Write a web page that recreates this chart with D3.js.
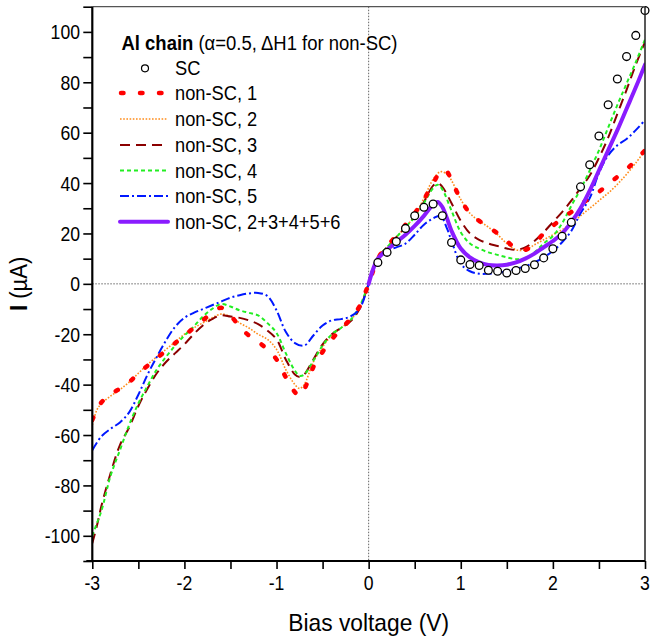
<!DOCTYPE html>
<html><head><meta charset="utf-8">
<script src="https://cdn.jsdelivr.net/npm/d3@7"></script>
<style>body{margin:0;background:#fff}svg{display:block}text{font-family:"Liberation Sans",Arial,Helvetica,sans-serif;fill:#000}</style>
</head><body>
<script>
// ---- data (bias voltage V, current µA) ----
const scV = [0.1,0.2,0.3,0.4,0.5,0.6,0.7,0.8,0.9,1.0,1.1,1.2,1.3,1.4,1.5,1.6,1.7,1.8,1.9,2.0,2.1,2.2,2.3,2.4,2.5,2.6,2.7,2.8,2.9,3.0];
const scI = [8.5,12.5,16.8,22.0,27.0,30.4,31.7,27.0,16.4,9.5,7.7,7.3,5.4,5.0,4.3,5.3,6.1,7.6,10.3,13.9,18.9,24.4,38.5,47.3,58.7,71.1,81.3,90.2,98.6,108.5];

const v1 = [-3,-2.9,-2.8,-2.7,-2.6,-2.5,-2.4,-2.3,-2.2,-2.1,-2.0,-1.9,-1.8,-1.7,-1.6,-1.5,-1.4,-1.3,-1.2,-1.1,-1.0,-0.9,-0.8,-0.75,-0.7,-0.6,-0.5,-0.4,-0.3,-0.2,-0.1,0,0.1,0.2,0.3,0.4,0.5,0.6,0.7,0.8,0.85,0.9,1.0,1.1,1.2,1.3,1.4,1.5,1.6,1.7,1.8,1.9,2.0,2.1,2.2,2.3,2.4,2.5,2.6,2.7,2.8,2.9,3.0];
const i1 = [-54,-47,-44,-41.5,-39,-35.5,-32.5,-29.5,-26.5,-23.5,-20.5,-17.5,-14.5,-11.5,-9.5,-12.5,-17,-20.5,-23,-26,-30,-37,-43,-44.5,-42,-33,-27,-22,-18,-14,-9,0,10,15,19,23.5,28,33.5,40,45.3,44.5,41,33.5,28,25,22.5,20,17,14,13.5,16,20,23,26,28.5,31.5,34,36.5,39.5,42.5,45.5,49,53];

const v2 = [-3,-2.95,-2.9,-2.8,-2.7,-2.6,-2.5,-2.4,-2.3,-2.2,-2.1,-2.0,-1.9,-1.8,-1.7,-1.6,-1.5,-1.4,-1.3,-1.2,-1.1,-1.0,-0.9,-0.8,-0.75,-0.7,-0.6,-0.5,-0.4,-0.3,-0.2,-0.1,0,0.1,0.2,0.3,0.4,0.5,0.6,0.7,0.78,0.85,0.9,1.0,1.1,1.2,1.3,1.4,1.5,1.6,1.7,1.8,1.9,2.0,2.1,2.2,2.3,2.4,2.5,2.6,2.7,2.8,2.9,3.0];
const i2 = [-56,-50,-47.5,-44.5,-42,-39,-35.5,-32,-29,-26,-23,-20,-17.5,-15.5,-13.5,-12,-13,-15.5,-17.5,-20,-22,-26,-34,-40,-41.5,-40,-31,-25,-20.5,-17.5,-14.5,-9.5,0,11,14.5,18.5,22.5,27,34,41.5,44.5,43.5,41,33.5,28,25,22.5,19.5,16,13.5,13.5,15.5,17.5,19.5,21.5,24,27,30,33,36,39.5,43.5,48,53];

const v3 = [-3,-2.95,-2.9,-2.8,-2.7,-2.6,-2.5,-2.4,-2.3,-2.2,-2.1,-2.0,-1.9,-1.8,-1.7,-1.6,-1.5,-1.4,-1.3,-1.2,-1.1,-1.0,-0.9,-0.8,-0.75,-0.7,-0.6,-0.5,-0.4,-0.3,-0.2,-0.1,0,0.1,0.2,0.3,0.4,0.5,0.6,0.7,0.75,0.8,0.9,1.0,1.1,1.2,1.3,1.4,1.5,1.6,1.7,1.8,1.9,2.0,2.1,2.2,2.3,2.4,2.5,2.6,2.7,2.8,2.9,3.0];
const i3 = [-103,-96,-88,-75,-64,-57,-48.5,-41.5,-35.5,-31,-27.5,-24,-20,-16.5,-14,-12.5,-13,-13.5,-14.5,-16,-18.5,-22,-30,-36,-37,-36,-30,-24,-20,-17.5,-15,-10,0,10.5,14.5,18.5,22.5,27,32.5,39,40,38.5,32,25,20,17.5,16,15,14,13.5,14.5,17,20.5,24.5,28.5,33,38,43,50,58,67.5,77,87,96];

const v4 = [-3,-2.95,-2.9,-2.8,-2.7,-2.6,-2.5,-2.4,-2.3,-2.2,-2.1,-2.0,-1.9,-1.8,-1.7,-1.6,-1.5,-1.4,-1.3,-1.2,-1.1,-1.0,-0.9,-0.8,-0.75,-0.7,-0.6,-0.5,-0.4,-0.3,-0.2,-0.1,0,0.1,0.2,0.3,0.4,0.5,0.6,0.7,0.75,0.8,0.9,1.0,1.1,1.2,1.3,1.4,1.5,1.6,1.7,1.8,1.9,2.0,2.1,2.2,2.3,2.4,2.5,2.6,2.7,2.8,2.9,3.0];
const i4 = [-100,-95,-90,-76,-66,-56,-47.5,-40.5,-34,-29,-24.5,-20.5,-17,-13,-10,-8,-9,-10.5,-11.5,-12.5,-15.5,-19.5,-27.5,-34.5,-36.5,-36,-30.5,-24.5,-20,-17.5,-14.5,-9,0,10.5,14.5,18.5,22.5,26.5,32,38,39.3,37.5,29,20.5,16,14,12.5,11.5,10.5,9.8,10,12.5,16,19,24,31,37.5,45,53,62,71,79.5,88,97];

const v5 = [-3,-2.9,-2.8,-2.7,-2.6,-2.5,-2.4,-2.3,-2.2,-2.1,-2.0,-1.9,-1.8,-1.7,-1.6,-1.5,-1.4,-1.3,-1.2,-1.1,-1.0,-0.9,-0.8,-0.7,-0.6,-0.5,-0.4,-0.3,-0.2,-0.1,0,0.1,0.2,0.3,0.4,0.5,0.6,0.7,0.78,0.85,0.9,1.0,1.1,1.2,1.3,1.4,1.5,1.6,1.7,1.8,1.9,2.0,2.1,2.2,2.3,2.4,2.5,2.6,2.7,2.8,2.9,3.0];
const i5 = [-66,-60.5,-57.5,-55,-51,-44,-36,-29,-22.5,-17,-13.5,-11.5,-10,-8.5,-7,-5.5,-4.5,-3.8,-3.6,-4.8,-10.5,-19,-23.5,-24.5,-20.5,-16.5,-14.5,-14,-13,-10,0,10.5,13.2,14.5,16,19.5,23.5,26,27,22,17,8,5,4,4,4.3,5,6,7,8.5,10.5,13,16.5,21,28,34,44,51,55,57.5,61,65];

const v6 = [0,0.05,0.1,0.2,0.3,0.4,0.5,0.6,0.7,0.75,0.8,0.85,0.9,1.0,1.1,1.2,1.3,1.4,1.5,1.6,1.7,1.8,1.9,2.0,2.1,2.2,2.3,2.4,2.5,2.6,2.7,2.8,2.9,3.0];
const i6 = [0,6,10,13.5,16.5,19.5,23,27,31.5,32.5,30.5,26,21,14,10.5,8.5,7.5,7.3,7.6,8.5,10,12,14.5,17,20,24.5,30,37,45,53,61,69.5,78,87];

const xTicks = [-3,-2,-1,0,1,2,3];
const xMinor = [-2.5,-1.5,-0.5,0.5,1.5,2.5];
const yTicks = [-100,-80,-60,-40,-20,0,20,40,60,80,100];
const yMinor = [-110,-90,-70,-50,-30,-10,10,30,50,70,90,110];

const legendTitleBold = "Al chain";
const legendTitleRest = " (\u03B1=0.5, \u0394H1 for non-SC)";
const seriesNames = ["SC","non-SC, 1","non-SC, 2","non-SC, 3","non-SC, 4","non-SC, 5","non-SC, 2+3+4+5+6"];

// ---- styles ----
const lineSeries = [
  {v:v2, i:i2, color:"#ff8c1a", w:1.6, dash:"1.6,1.6", cap:"butt"},
  {v:v3, i:i3, color:"#8b0000", w:2, dash:"10,6", cap:"butt"},
  {v:v4, i:i4, color:"#22ee22", w:2, dash:"4,3", cap:"butt"},
  {v:v5, i:i5, color:"#0018ff", w:2, dash:"9,3,2,3", cap:"butt"},
  {v:v1, i:i1, color:"#ff0000", w:4.5, dash:"2.5,16.5", cap:"round"},
  {v:v6, i:i6, color:"#8a1cff", w:4, dash:null, cap:"round"}
];

const W = 652, H = 636;
const L = 92.3, R = 645, T = 6.7, B = 561;
const svg = d3.select("body").append("svg").attr("width",W).attr("height",H);
const x = d3.scaleLinear().domain([-3,3]).range([L,R]);
const y = d3.scaleLinear().domain([-110,110]).range([B,T]);

// zero lines
svg.append("line").attr("x1",L).attr("x2",R).attr("y1",y(0)).attr("y2",y(0))
  .attr("stroke","#666").attr("stroke-width",1).attr("stroke-dasharray","1.5,1.5");
svg.append("line").attr("x1",x(0)).attr("x2",x(0)).attr("y1",T).attr("y2",B)
  .attr("stroke","#666").attr("stroke-width",1).attr("stroke-dasharray","1.5,1.5");

// clip
svg.append("clipPath").attr("id","c").append("rect").attr("x",L).attr("y",T).attr("width",R-L).attr("height",B-T);
const plot = svg.append("g").attr("clip-path","url(#c)");

const lineGen = d3.line().x(d=>x(d[0])).y(d=>y(d[1])).curve(d3.curveCatmullRom.alpha(0.5));
lineSeries.forEach(s=>{
  const pts = s.v.map((vv,k)=>[vv,s.i[k]]);
  plot.append("path").attr("d",lineGen(pts)).attr("fill","none")
    .attr("stroke",s.color).attr("stroke-width",s.w)
    .attr("stroke-dasharray",s.dash).attr("stroke-linecap",s.cap).attr("stroke-linejoin","round");
});
svg.append("g").selectAll("circle").data(scV.map((vv,k)=>[vv,scI[k]])).join("circle")
  .attr("cx",d=>x(d[0])).attr("cy",d=>y(d[1])).attr("r",3.9)
  .attr("fill","#fff").attr("stroke","#000").attr("stroke-width",1.3);

// frame top/right
svg.append("line").attr("x1",L).attr("x2",R).attr("y1",T).attr("y2",T).attr("stroke","#555").attr("stroke-width",1.2);
svg.append("line").attr("x1",R).attr("x2",R).attr("y1",T).attr("y2",B).attr("stroke","#222").attr("stroke-width",1.5);

// axes
const ax = svg.append("g").attr("transform",`translate(0,${B})`)
  .call(d3.axisBottom(x).tickValues(xTicks.concat(xMinor)).tickSize(8).tickFormat(""));
const ay = svg.append("g").attr("transform",`translate(${L},0)`)
  .call(d3.axisLeft(y).tickValues(yTicks.concat(yMinor)).tickSize(9).tickFormat(""));
[ax,ay].forEach(a=>{
  a.select(".domain").attr("stroke","#000").attr("stroke-width",2.2);
  a.selectAll(".tick line").attr("stroke","#000").attr("stroke-width",1.6);
});
ax.select(".domain").attr("d",`M${L-6},0H${R}`);
ay.select(".domain").attr("d",`M0,${B}V${T}`);

function txt(s, px, py, size, anchor, sx, weight){
  return svg.append("text").attr("transform",`translate(${px},${py}) scale(${sx},1)`)
    .attr("text-anchor",anchor).attr("font-size",size).attr("font-weight",weight||"normal").text(s);
}
xTicks.forEach(t=>txt(String(t), x(t), 590, 21, "middle", 0.84));
yTicks.forEach(t=>txt(String(t), 80, y(t)+7.5, 21, "end", 0.84));

txt("Bias voltage (V)", x(0), 631, 24, "middle", 0.95);
const yl = svg.append("text").attr("transform",`translate(27,${y(0)}) rotate(-90) scale(0.92,1)`)
  .attr("text-anchor","middle").attr("font-size",24);
yl.append("tspan").attr("font-weight","bold").text("I");
yl.append("tspan").text(" (\u00B5A)");

// legend
const lt = svg.append("text").attr("transform",`translate(121.5,50) scale(0.88,1)`).attr("font-size",21);
lt.append("tspan").attr("font-weight","bold").text(legendTitleBold);
lt.append("tspan").text(legendTitleRest);

const rowY = [68.3,93,119,145,170.5,196,221.7];
const legStyles = [null, lineSeries[4], lineSeries[0], lineSeries[1], lineSeries[2], lineSeries[3], lineSeries[5]];
seriesNames.forEach((nm,k)=>{
  const yy = rowY[k];
  if(k===0){
    svg.append("circle").attr("cx",145).attr("cy",yy).attr("r",3.5).attr("fill","#fff").attr("stroke","#000").attr("stroke-width",1.2);
  } else {
    const s = legStyles[k];
    svg.append("line").attr("x1",k===1?121:120).attr("x2",168).attr("y1",yy).attr("y2",yy)
      .attr("stroke",s.color).attr("stroke-width",s.w).attr("stroke-dasharray",s.dash).attr("stroke-linecap",s.cap);
  }
  txt(nm, 175, yy+7, 21, "start", 0.87);
});
</script>
</body></html>
